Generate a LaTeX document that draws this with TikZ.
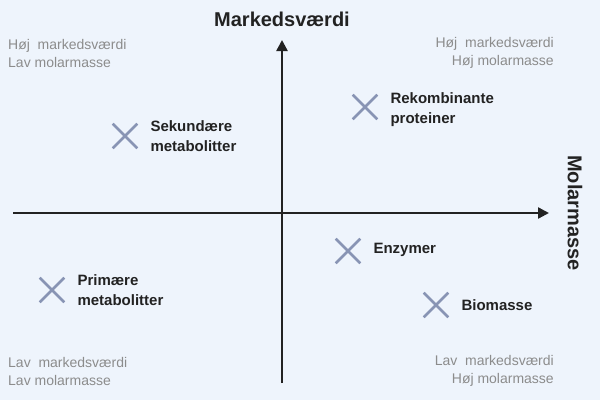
\documentclass[tikz,border=0pt]{standalone}
\usepackage{fontspec}
\setmainfont{Liberation Sans}
\usetikzlibrary{arrows.meta,positioning,shapes.misc}
\definecolor{bgblue}{HTML}{EEF4FC}
\definecolor{crossblue}{HTML}{8894B4}
\definecolor{axisgray}{HTML}{222222}
\definecolor{cornergray}{HTML}{8C8C8C}
\begin{document}
\begin{tikzpicture}
	[x=1pt,y=-1pt,
	axis/.style={draw=axisgray,line width=2.4pt,-{Triangle[length=11pt,width=11pt]}},
	productmark/.style={draw=crossblue,cross out,line width=2.6pt,minimum size=22pt,inner sep=0pt},
	item/.style={font=\fontsize{15}{20}\selectfont\bfseries,text=axisgray,align=left,inner sep=0pt,right=13pt of #1},
	corner/.style={font=\fontsize{14}{18}\selectfont,text=cornergray,inner sep=0pt},
	title/.style={font=\fontsize{20}{24}\selectfont\bfseries,text=axisgray,inner sep=0pt}]
	\fill[bgblue] (0,0) rectangle (600,400);
	\useasboundingbox (0,0) rectangle (600,400);
	% axes
	\coordinate (xl) at (13,213);
	\coordinate (xr) at (549,213);
	\coordinate (yb) at (282,383);
	\coordinate (yt) at (282,40);
	\draw[axis] (xl) -- (xr);
	\draw[axis] (yb) -- (yt);
	\node[title] (ytitle) at (282,19) {Markedsværdi};
	\node[title,rotate=-90] (xtitle) at (575,213) {Molarmasse};
	% corners
	\node[corner,anchor=west,align=left] (tl) at (8,53) {Høj\ \ markedsværdi\\Lav molarmasse};
	\node[corner,anchor=east,align=right] (tr) at (554,53) {Høj\ \ markedsværdi\\Høj molarmasse};
	\node[corner,anchor=west,align=left] (bl) at (8,371) {Lav\ \ markedsværdi\\Lav molarmasse};
	\node[corner,anchor=east,align=right] (br) at (554,371) {Lav\ \ markedsværdi\\Høj molarmasse};
	% products
	\node[productmark] (sek) at (125,136) {};
	\node[item=sek] (seklabel) {Sekundære\\metabolitter};
	\node[productmark] (rek) at (365,107) {};
	\node[item=rek,yshift=-3pt] (reklabel) {Rekombinante\\proteiner};
	\node[productmark] (enz) at (348,251) {};
	\node[item=enz,yshift=1pt] (enzlabel) {Enzymer};
	\node[productmark] (pri) at (52,290) {};
	\node[item=pri] (prilabel) {Primære\\metabolitter};
	\node[productmark] (bio) at (436,305) {};
	\node[item=bio] (biolabel) {Biomasse};
\end{tikzpicture}
\end{document}
